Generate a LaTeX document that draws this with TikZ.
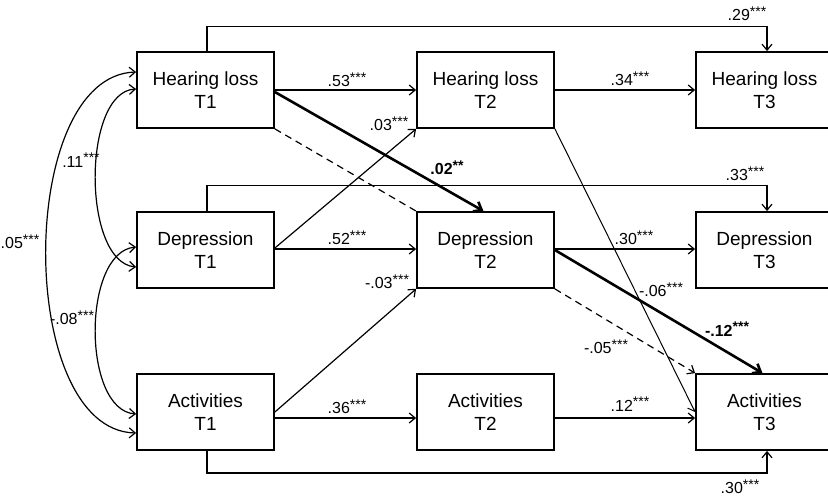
\documentclass[tikz,border=0pt]{standalone}
\usepackage{fontspec}
\setmainfont{Liberation Sans}
\usetikzlibrary{arrows.meta}
\newcommand\sigl[2]{#1\raisebox{4.5pt}{\fontsize{14}{14}\selectfont #2}}
\begin{document}
\begin{tikzpicture}[x=1pt,y=-1pt,
  box/.style={draw, line width=1.8pt, minimum width=137pt, minimum height=76pt, align=center, inner sep=0pt, font=\fontsize{19}{22.5}\selectfont},
  tip/.tip={Straight Barb[length=6pt,width=10pt]},
  arr/.style={line width=1.2pt, -tip},
  thinarr/.style={line width=1pt, -tip},
  heavy/.style={line width=2.6pt, -{Straight Barb[length=7pt,width=11pt]}},
  dashln/.style={line width=1.2pt, dash pattern=on 7pt off 5pt},
  darr/.style={line width=1.2pt, tip-tip},
  lab/.style={inner sep=0pt, font=\fontsize{16}{16}\selectfont},
  blab/.style={inner sep=0pt, font=\fontsize{16}{16}\selectfont\bfseries}]
\clip (0,0) rectangle (828,496);
\fill[white] (0,0) rectangle (828,496);
% boxes
\node[box] (HL1) at (205.5,90) {Hearing loss\\T1};
\node[box] (HL2) at (485.5,90) {Hearing loss\\T2};
\node[box] (HL3) at (764.5,90) {Hearing loss\\T3};
\node[box] (Dep1) at (205.5,250) {Depression\\T1};
\node[box] (Dep2) at (485.5,250) {Depression\\T2};
\node[box] (Dep3) at (764.5,250) {Depression\\T3};
\node[box] (Act1) at (205.5,412) {Activities\\T1};
\node[box] (Act2) at (485.5,412) {Activities\\T2};
\node[box] (Act3) at (764.5,412) {Activities\\T3};
% lag-2 paths
\draw[arr] ([xshift=1.5pt]HL1.north) -- ++(0,-25) -| ([xshift=2.5pt]HL3.north);
\draw[arr] ([xshift=1.5pt]Dep1.north) -- ++(0,-26) -| ([xshift=2.5pt]Dep3.north);
\draw[arr] ([xshift=1.5pt]Act1.south) -- ++(0,22) -| ([xshift=2.5pt]Act3.south);
% horizontal paths
\draw[arr] (HL1.east) -- (HL2.west);
\draw[arr] (HL2.east) -- (HL3.west);
\draw[arr] ([yshift=1pt]Dep1.east) -- ([yshift=1pt]Dep2.west);
\draw[arr] ([yshift=1pt]Dep2.east) -- ([yshift=1pt]Dep3.west);
\draw[arr] ([yshift=-6pt]Act1.east) -- ([yshift=-6pt]Act2.west);
\draw[arr] ([yshift=-6pt]Act2.east) -- ([yshift=-6pt]Act3.west);
% cross paths
\draw[heavy] ([yshift=-2pt]HL1.east) -- ([xshift=-2pt]Dep2.north);
\draw[dashln] (HL1.south east) -- (Dep2.north west);
\draw[arr] ([yshift=2pt]Dep1.east) -- (HL2.south west);
\draw[arr] (Act1.east) -- (Dep2.south west);
\draw[thinarr] (HL2.south east) -- (Act3.west);
\draw[heavy] (Dep2.east) -- ([xshift=-2pt]Act3.north);
\draw[dashln, -tip] (Dep2.south east) -- (Act3.north west);
% correlations
\draw[darr] ([yshift=1pt]HL1.west) .. controls (82,92) and (82,262) .. ([yshift=-17pt]Dep1.west);
\draw[darr] ([yshift=3pt]Dep1.west) .. controls (82,252) and (82,410) .. ([yshift=-2pt]Act1.west);
\draw[darr] ([yshift=18pt]HL1.west) .. controls (16,76) and (16,430) .. ([yshift=-21pt]Act1.west);
% labels
\node[lab] (l29) at (747,14) {\sigl{.29}{***}};
\node[lab] (l53) at (347,80) {\sigl{.53}{***}};
\node[lab] (l34) at (630,79) {\sigl{.34}{***}};
\node[lab] (l03) at (389,124) {\sigl{.03}{***}};
\node[blab] (l02) at (447,168) {\sigl{.02}{**}};
\node[lab] (l33) at (745,174) {\sigl{.33}{***}};
\node[lab] (l11) at (81,160) {\sigl{.11}{***}};
\node[lab] (l05) at (20,242) {\sigl{.05}{***}};
\node[lab] (l52) at (347,238) {\sigl{.52}{***}};
\node[lab] (l30a) at (634,238) {\sigl{.30}{***}};
\node[lab] (lm03) at (387,282) {\sigl{-.03}{***}};
\node[lab] (lm08) at (72,318) {\sigl{-.08}{***}};
\node[lab] (lm06) at (661,290) {\sigl{-.06}{***}};
\node[blab] (lm12) at (727,329) {\sigl{-.12}{***}};
\node[lab] (lm05) at (606,347) {\sigl{-.05}{***}};
\node[lab] (l36) at (347,407) {\sigl{.36}{***}};
\node[lab] (l12) at (630,404) {\sigl{.12}{***}};
\node[lab] (l30b) at (740,487) {\sigl{.30}{***}};
\end{tikzpicture}
\end{document}
